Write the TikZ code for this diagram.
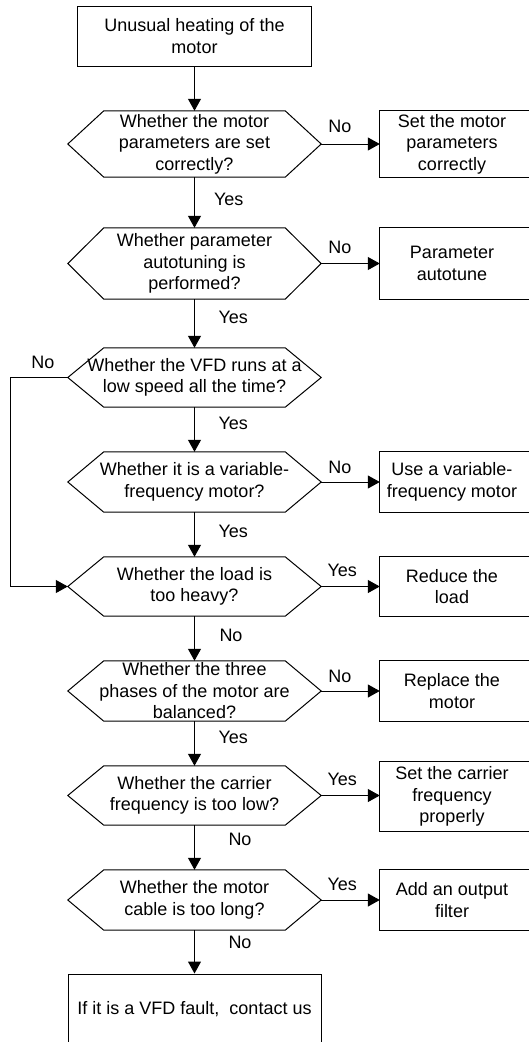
\documentclass[tikz,border=0pt]{standalone}
\usepackage{fontspec}
\setmainfont{Liberation Sans}
\usetikzlibrary{arrows.meta}

\tikzset{
  box/.style={draw, line width=1pt, align=center, inner sep=0pt},
  decision/.style={align=center, inner sep=0pt, minimum width=253pt},
  action/.style={align=center, inner sep=0pt, minimum width=144pt},
  arrow/.style={line width=1pt, -{Triangle[length=12pt,width=13pt]}},
  lbl/.style={inner sep=0pt, text height=13pt, text depth=4pt}
}

\begin{document}
\begin{tikzpicture}[x=1pt,y=-1pt,font=\fontsize{18}{21.5}\selectfont]
\useasboundingbox (0,0) rectangle (529,1042);
\clip (0,0) rectangle (529,1042);

\node[box, minimum width=234pt, minimum height=60pt] (start) at (194.5,36) {Unusual heating of the\\motor};
\node[decision, minimum height=66pt] (d1) at (194.5,144) {Whether the motor\\parameters are set\\correctly?};
\node[action, minimum height=66pt] (b1) at (452,144) {Set the motor\\parameters\\correctly};
\node[decision, minimum height=71pt] (d2) at (194.5,263.5) {Whether parameter\\autotuning is\\performed?};
\node[action, minimum height=71pt] (b2) at (452,263.5) {Parameter\\autotune};
\node[decision, minimum height=59pt] (d3) at (194.5,377.5) {Whether the VFD runs at a\\low speed all the time?};
\node[decision, minimum height=60pt] (d4) at (194.5,482) {Whether it is a variable-\\frequency motor?};
\node[action, minimum height=60pt] (b4) at (452,482) {Use a variable-\\frequency motor};
\node[decision, minimum height=59pt] (d5) at (194.5,586.5) {Whether the load is\\too heavy?};
\node[action, minimum height=59pt] (b5) at (452,586.5) {Reduce the\\load};
\node[decision, minimum height=60pt] (d6) at (194.5,691) {Whether the three\\phases of the motor are\\balanced?};
\node[action, minimum height=60pt] (b6) at (452,691) {Replace the\\motor};
\node[decision, minimum height=59pt] (d7) at (194.5,795.5) {Whether the carrier\\frequency is too low?};
\node[action, minimum height=69pt] (b7) at (452,796.5) {Set the carrier\\frequency\\properly};
\node[decision, minimum height=60pt] (d8) at (194.5,900) {Whether the motor\\cable is too long?};
\node[action, minimum height=60pt] (b8) at (452,900) {Add an output\\filter};
\node[box, minimum width=253pt, minimum height=70pt] (stop) at (194.5,1009) {If it is a VFD fault,\ \ contact us};
\coordinate (bend) at (10,377.5);

% hexagons and open boxes
\foreach \d in {d1,d2,d3,d4,d5,d6,d7,d8}
  \draw[line width=1pt] (\d.west) -- ([xshift=36pt]\d.north west) -- ([xshift=-36pt]\d.north east)
    -- (\d.east) -- ([xshift=-36pt]\d.south east) -- ([xshift=36pt]\d.south west) -- cycle;
\foreach \b in {b1,b2,b4,b5,b6,b7,b8}
  \draw[line width=1pt] ([xshift=30pt]\b.north east) -| (\b.south west) -- ([xshift=30pt]\b.south east);

% main column
\draw[arrow] (start) -- (d1);
\draw[arrow] (d1) -- node[lbl, pos=.47, right=19pt]{Yes} (d2);
\draw[arrow] (d2) -- node[lbl, pos=.41, right=23.5pt]{Yes} (d3);
\draw[arrow] (d3) -- node[lbl, pos=.4, right=23.5pt]{Yes} (d4);
\draw[arrow] (d4) -- node[lbl, pos=.47, right=23.5pt]{Yes} (d5);
\draw[arrow] (d5) -- node[lbl, pos=.47, right=24.5pt]{No} (d6);
\draw[arrow] (d6) -- node[lbl, pos=.4, right=23.5pt]{Yes} (d7);
\draw[arrow] (d7) -- node[lbl, pos=.36, right=33.5pt]{No} (d8);
\draw[arrow] (d8) -- node[lbl, pos=.32, right=33.5pt]{No} (stop);

% side branches
\draw[arrow] (d1.east) -- node[lbl, pos=.32, above=7pt]{No} (d1.east -| b1.west);
\draw[arrow] (d2.east) -- node[lbl, pos=.32, above=6pt]{No} (d2.east -| b2.west);
\draw[arrow] (d4.east) -- node[lbl, pos=.32, above=4pt]{No} (d4.east -| b4.west);
\draw[arrow] (d5.east) -- node[lbl, pos=.36, above=6pt]{Yes} (d5.east -| b5.west);
\draw[arrow] (d6.east) -- node[lbl, pos=.32, above=4pt]{No} (d6.east -| b6.west);
\draw[arrow] (d7.east) -- node[lbl, pos=.36, above=6pt]{Yes} (d7.east -| b7.west);
\draw[arrow] (d8.east) -- node[lbl, pos=.36, above=5.5pt]{Yes} (d8.east -| b8.west);
\draw[arrow] (d3.west) -- node[lbl, pos=.43, above=4.5pt]{No} (bend) |- (d5.west);
\end{tikzpicture}
\end{document}
